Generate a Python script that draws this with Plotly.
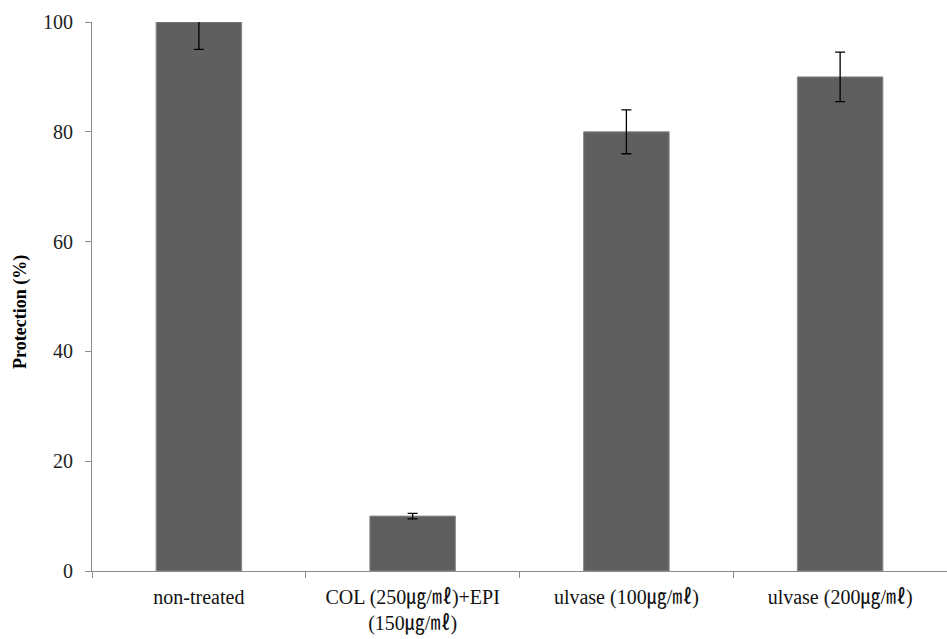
import plotly.graph_objects as go

categories = ["non-treated", "COL (250㎍/㎖)+EPI<br>(150㎍/㎖)", "ulvase (100㎍/㎖)", "ulvase (200㎍/㎖)"]
values = [100, 10, 80, 90]
errors = [5, 0.5, 4, 4.5]
y_ticks = [0, 20, 40, 60, 80, 100]

fig = go.Figure()
fig.add_trace(go.Bar(
    x=categories, y=values,
    marker=dict(color="#5f5f5f", line=dict(color="#8a8a8a", width=1)),
    width=0.4,
    error_y=dict(type="data", array=errors, visible=True, color="#000000", thickness=1.3, width=5),
))

font_family = "Liberation Serif, Times New Roman, Noto Sans CJK KR, serif"
fig.update_layout(
    width=947, height=639,
    margin=dict(l=92, r=0, t=22, b=68),
    plot_bgcolor="white", paper_bgcolor="white",
    showlegend=False,
    font=dict(family=font_family, size=20, color="#000000"),
    xaxis=dict(
        showline=True, linecolor="#8c8c8c", linewidth=1,
        ticks="outside", tickson="boundaries", ticklen=6, tickcolor="#8c8c8c",
        showgrid=False, automargin=False,
        tickfont=dict(size=20, family=font_family, color="#111111"),
        ticklabelstandoff=8,
    ),
    yaxis=dict(
        range=[0, 100], tickvals=y_ticks,
        showline=True, linecolor="#8c8c8c", linewidth=1,
        ticks="outside", ticklen=6, tickcolor="#8c8c8c",
        showgrid=False, zeroline=False, automargin=False,
        tickfont=dict(size=20, family=font_family, color="#222222"),
        ticklabelstandoff=8,
    ),
    annotations=[dict(
        text="<b>Protection (%)</b>", textangle=-90,
        xref="paper", yref="paper", x=-0.083, y=0.472,
        xanchor="center", yanchor="middle", showarrow=False,
        font=dict(size=18, family=font_family, color="#000000"),
    )],
)

fig.write_html("out.html")
